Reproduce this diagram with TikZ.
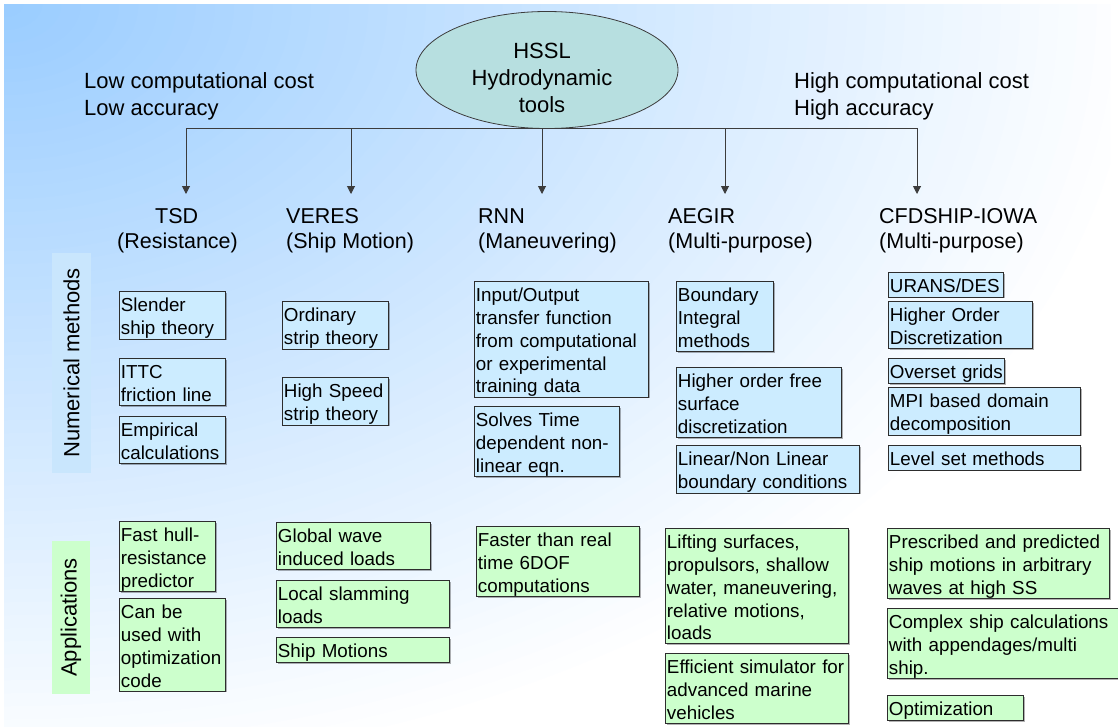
\documentclass[tikz,border=0pt]{standalone}
\usepackage{fontspec}
\setmainfont{Liberation Sans}
\usetikzlibrary{shapes.geometric,arrows.meta,shadows}
\definecolor{bgblue}{RGB}{153,204,255}
\definecolor{numfill}{RGB}{204,236,255}
\definecolor{appfill}{RGB}{204,255,204}
\definecolor{numbg}{RGB}{201,230,253}
\definecolor{appbg}{RGB}{204,255,204}
\definecolor{ellfill}{RGB}{183,223,224}
\definecolor{boxline}{RGB}{45,45,45}
\definecolor{linegray}{RGB}{60,60,60}
\newcommand\boxfont{\fontsize{18.8}{22.7}\selectfont}
\newcommand\bigfont{\fontsize{22}{27}\selectfont}
\newcommand\headfont{\fontsize{21.5}{26}\selectfont}
\newcommand\mybox[6]{%
  \pgfmathsetmacro\tw{#5-#3-3}%
  \node[#2, text width=\tw pt] (#1) at (#3,#4) {#6};}
\tikzset{
  basebox/.style={draw=boxline, line width=0.9pt, anchor=north west,
    inner xsep=1.5pt, inner ysep=0.5pt, align=left, font=\boxfont,
    execute at begin node=\rule{0pt}{20pt},
    execute at end node=\rule[-3.5pt]{0pt}{3.5pt},
    drop shadow={shadow xshift=1.2pt, shadow yshift=-1.2pt, fill=black, opacity=0.3}},
  numbox/.style={basebox, fill=numfill},
  appbox/.style={basebox, fill=appfill},
  toptext/.style={anchor=base west, inner sep=0pt, font=\bigfont},
  headtext/.style={anchor=base west, inner sep=0pt, font=\headfont},
  sidelabel/.style={rotate=90, inner sep=0pt, font=\bigfont},
  conn/.style={draw=linegray, line width=1pt},
  arr/.style={conn, -{Triangle[width=8pt,length=8pt]}}
}
\begin{document}
\begin{tikzpicture}[x=1pt,y=-1pt]
\useasboundingbox (0,0) rectangle (1118,726);
\fill[white] (0,0) rectangle (1118,726);
\begin{scope}
\clip (4,4) rectangle (1110,726);
\foreach \i in {60,59,...,1}{
  \pgfmathsetmacro\pc{100-5*\i/3}
  \pgfmathsetmacro\rx{19.1667*\i}
  \pgfmathsetmacro\ry{13*\i}
  \fill[bgblue!\pc!white] (4,4) ellipse [x radius=\rx, y radius=\ry];
}
\end{scope}

% top texts
\node[toptext] (lowcost) at (84,88) {Low computational cost};
\node[toptext] (lowacc) at (84,115) {Low accuracy};
\node[toptext] (highcost) at (794,88) {High computational cost};
\node[toptext] (highacc) at (794,115) {High accuracy};

% root ellipse
\node[ellipse, draw=linegray, line width=0.8pt, fill=ellfill, minimum width=262pt, minimum height=117pt, inner sep=0pt] (root) at (547,70) {};
\node[anchor=north, inner sep=0pt, align=center, font=\fontsize{22}{27}\selectfont,
  execute at begin node=\rule{0pt}{17pt}] (roottext) at (542,43) {HSSL\\Hydrodynamic\\tools};

% branch
\coordinate (a1) at (186,128);
\coordinate (a2) at (351,128);
\coordinate (a3) at (542,128);
\coordinate (a4) at (725,128);
\coordinate (a5) at (917,128);
\coordinate (t1) at (186,194);
\coordinate (t2) at (351,194);
\coordinate (t3) at (542,194);
\coordinate (t4) at (725,194);
\coordinate (t5) at (917,194);
\draw[conn] (a1) -- (a5);
\draw[arr] (a1) -- (t1);
\draw[arr] (a2) -- (t2);
\draw[arr] (a3) -- (t3);
\draw[arr] (a4) -- (t4);
\draw[arr] (a5) -- (t5);

% headers
\node[headtext] (h1a) at (155,223) {TSD};
\node[headtext] (h1b) at (117,248) {(Resistance)};
\node[headtext] (h2a) at (286,223) {VERES};
\node[headtext] (h2b) at (286,248) {(Ship Motion)};
\node[headtext] (h3a) at (478,223) {RNN};
\node[headtext] (h3b) at (478,248) {(Maneuvering)};
\node[headtext] (h4a) at (668,223) {AEGIR};
\node[headtext] (h4b) at (668,248) {(Multi-purpose)};
\node[headtext] (h5a) at (879,223) {CFDSHIP-IOWA};
\node[headtext] (h5b) at (879,248) {(Multi-purpose)};

% side labels
\node[sidelabel, fill=numbg, minimum width=220pt, minimum height=39pt] (numlab) at (71.5,363) {Numerical methods};
\node[sidelabel, fill=appbg, minimum width=153pt, minimum height=38pt] (applab) at (71,617.5) {Applications};

% numerical methods boxes
\mybox{slender}{numbox}{119}{291}{225}{Slender\\ship theory}
\mybox{ittc}{numbox}{119}{358}{225}{ITTC\\friction line}
\mybox{empirical}{numbox}{119}{416}{225}{Empirical\\calculations}
\mybox{ordinary}{numbox}{282}{301}{388}{Ordinary\\strip theory}
\mybox{highspeed}{numbox}{282}{377}{388}{High Speed\\strip theory}
\mybox{inout}{numbox}{474}{281}{648}{Input/Output\\transfer function\\from computational\\or experimental\\training data}
\mybox{solves}{numbox}{474}{406}{619}{Solves Time\\dependent non-\\linear eqn.}
\mybox{boundary}{numbox}{676}{281}{773}{Boundary\\Integral\\methods}
\mybox{higherfree}{numbox}{676}{367}{841}{Higher order free\\surface\\discretization}
\mybox{linear}{numbox}{676}{445}{859}{Linear/Non Linear\\boundary conditions}
\mybox{urans}{numbox}{888}{272}{1003}{URANS/DES}
\mybox{higherorder}{numbox}{888}{301}{1032}{Higher Order\\Discretization}
\mybox{overset}{numbox}{888}{358}{1004}{Overset~grids}
\mybox{mpi}{numbox}{888}{387}{1080}{MPI based domain\\decomposition}
\mybox{levelset}{numbox}{888}{445}{1080}{Level set methods}

% application boxes
\mybox{fasthull}{appbox}{119}{521}{215}{Fast hull-\\resistance\\predictor}
\mybox{canbe}{appbox}{119}{598}{225}{Can be\\used with\\optimization\\code}
\mybox{global}{appbox}{276}{522}{430}{Global wave\\induced loads}
\mybox{local}{appbox}{276}{580}{449}{Local slamming\\loads}
\mybox{shipmot}{appbox}{276}{637}{449}{Ship Motions}
\mybox{faster}{appbox}{476}{526}{639}{Faster than real\\time 6DOF\\computations}
\mybox{lifting}{appbox}{665}{528}{848}{Lifting surfaces,\\propulsors, shallow\\water, maneuvering,\\relative motions,\\loads}
\mybox{efficient}{appbox}{665}{653}{848}{Efficient simulator for\\advanced marine\\vehicles}
\mybox{prescribed}{appbox}{887}{528}{1109}{Prescribed and predicted\\ship motions in arbitrary\\waves at high SS}
\mybox{complex}{appbox}{887}{608}{1119}{Complex ship calculations\\with appendages/multi\\ship.}
\mybox{optim}{appbox}{887}{695}{1023}{Optimization}
\end{tikzpicture}
\end{document}
